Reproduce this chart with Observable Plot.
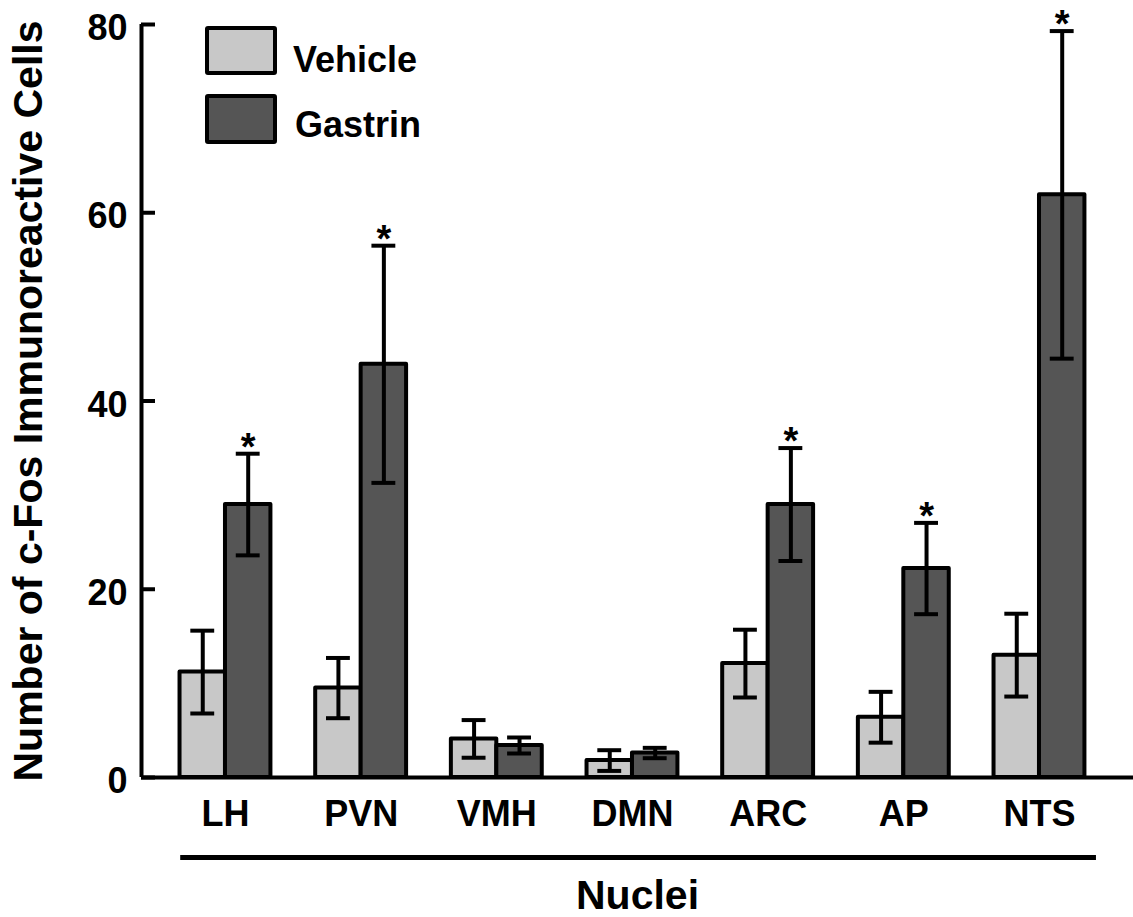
<!DOCTYPE html>
<html><head><meta charset="utf-8">
<script src="https://cdn.jsdelivr.net/npm/d3@7"></script>
<script src="https://cdn.jsdelivr.net/npm/@observablehq/plot@0.6"></script>
<style>
body{margin:0;background:#fff;}
#wrap{position:relative;width:1133px;height:917px;font-family:"Liberation Sans",Arial,Helvetica,sans-serif;}
.sw{position:absolute;box-sizing:border-box;border:4px solid #000;border-radius:3px;}
.lt{position:absolute;font-weight:bold;font-size:36px;line-height:1;white-space:nowrap;color:#000;}
</style></head><body>
<div id="wrap"></div>
<script>
const nuclei = ["LH", "PVN", "VMH", "DMN", "ARC", "AP", "NTS"];
const vehicleMean = [11.2, 9.5, 4.1, 1.8, 12.1, 6.4, 13.0];
const vehicleSem = [4.4, 3.2, 2.0, 1.1, 3.6, 2.7, 4.4];
const gastrinMean = [29.0, 43.9, 3.4, 2.6, 29.0, 22.2, 61.9];
const gastrinSem = [5.4, 12.6, 0.85, 0.55, 6.0, 4.85, 17.4];
const significant = [true, true, false, false, true, true, true];
const groups = ["Vehicle", "Gastrin"];
const groupColors = ["#c8c8c8", "#555555"];
const yTicks = [0, 20, 40, 60, 80];
const yTitle = "Number of c-Fos Immunoreactive Cells";
const xTitle = "Nuclei";

const W = 0.335;           // bar width in category steps
const CAP = 0.088;         // half cap width
const xDomain = [-0.619, 6.693];

const rows = [];
nuclei.forEach((n, i) => {
  rows.push({i, group: groups[0], x1: i - W, x2: i, xc: i - W / 2, mean: vehicleMean[i], sem: vehicleSem[i], sig: false});
  rows.push({i, group: groups[1], x1: i, x2: i + W, xc: i + W / 2, mean: gastrinMean[i], sem: gastrinSem[i], sig: significant[i]});
});

const font = "Liberation Sans, Arial, Helvetica, sans-serif";

const chart = Plot.plot({
  width: 1133,
  height: 917,
  marginTop: 24,
  marginBottom: 140,
  marginLeft: 141,
  marginRight: 0,
  style: {fontFamily: font, fontWeight: "bold", color: "#000", background: "#fff", overflow: "visible"},
  x: {type: "linear", domain: xDomain, axis: null},
  y: {domain: [0, 80], axis: null},
  color: {domain: groups, range: groupColors},
  marks: [
    Plot.rect(rows, {x1: "x1", x2: "x2", y1: 0, y2: "mean", fill: "group", stroke: "#000", strokeWidth: 4, strokeLinejoin: "round"}),
    Plot.ruleX(rows, {x: "xc", y1: d => d.mean - d.sem, y2: d => d.mean + d.sem, stroke: "#000", strokeWidth: 4}),
    Plot.ruleY(rows, {y: d => d.mean + d.sem, x1: d => d.xc - CAP, x2: d => d.xc + CAP, stroke: "#000", strokeWidth: 4}),
    Plot.ruleY(rows, {y: d => d.mean - d.sem, x1: d => d.xc - CAP, x2: d => d.xc + CAP, stroke: "#000", strokeWidth: 4}),
    Plot.text(rows.filter(d => d.sig), {x: "xc", y: d => d.mean + d.sem, text: () => "*", lineAnchor: "bottom", dy: 6, fontSize: 38, fontWeight: "bold", fill: "#000"}),
    // axes lines
    Plot.ruleY([0], {x1: xDomain[0], x2: xDomain[1], stroke: "#000", strokeWidth: 4}),
    Plot.ruleX([xDomain[0]], {y1: 0, y2: 80, stroke: "#000", strokeWidth: 4}),
    Plot.ruleY(yTicks, {x1: xDomain[0], x2: xDomain[0] + 0.103, stroke: "#000", strokeWidth: 4}),
    Plot.axisY(yTicks, {anchor: "left", tickSize: 0, tickPadding: 14, fontSize: 36, fontWeight: "bold", dy: 4, label: null}),
    Plot.axisX(d3.range(nuclei.length), {anchor: "bottom", tickSize: 0, tickPadding: 23, tickFormat: i => nuclei[i], fontSize: 36, fontWeight: "bold", label: null}),
    // underline bracket and axis titles
    Plot.ruleY([0], {x1: -0.33, x2: 6.42, dy: 80, stroke: "#000", strokeWidth: 5}),
    Plot.text([xTitle], {text: d => d, frameAnchor: "bottom", textAnchor: "middle", lineAnchor: "bottom", dy: 131, fontSize: 41, fontWeight: "bold", fill: "#000"}),
    Plot.text([yTitle], {text: d => d, frameAnchor: "left", textAnchor: "middle", rotate: -90, lineAnchor: "middle", dx: -113, fontSize: 41, fontWeight: "bold", fill: "#000"})
  ]
});

const wrap = document.getElementById("wrap");
wrap.appendChild(chart);

// legend (inside plot area, top-left)
const legendItems = [
  {label: groups[0], color: groupColors[0], sw: [205, 26, 72, 49], tx: [293, 41.5]},
  {label: groups[1], color: groupColors[1], sw: [205, 94, 72, 50], tx: [295, 106.5]}
];
legendItems.forEach(it => {
  const s = document.createElement("div");
  s.className = "sw";
  s.style.left = it.sw[0] + "px"; s.style.top = it.sw[1] + "px";
  s.style.width = it.sw[2] + "px"; s.style.height = it.sw[3] + "px";
  s.style.background = it.color;
  wrap.appendChild(s);
  const t = document.createElement("div");
  t.className = "lt";
  t.style.left = it.tx[0] + "px"; t.style.top = it.tx[1] + "px";
  t.textContent = it.label;
  wrap.appendChild(t);
});
</script>
</body></html>
